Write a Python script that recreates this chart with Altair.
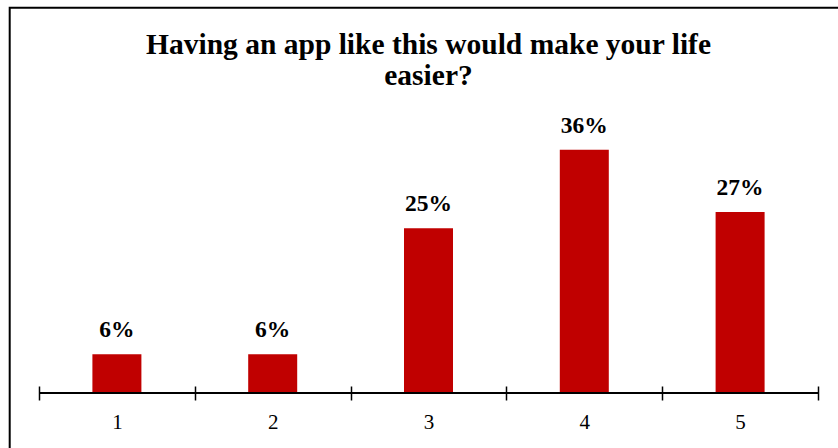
import altair as alt
import pandas as pd

categories = ["1", "2", "3", "4", "5"]
shares = [0.058, 0.058, 0.246, 0.363, 0.27]
title_lines = ["Having an app like this would make your life", "easier?"]

df = pd.DataFrame({"cat": categories, "share": shares})

W, H = 779, 268
SERIF = "Liberation Serif"

base = alt.Chart(df)

x_enc = alt.X(
    "cat:N",
    sort=categories,
    scale=alt.Scale(paddingInner=0, paddingOuter=0),
    axis=alt.Axis(
        title=None,
        domain=False,
        labelAngle=0,
        tickBand="extent",
        tickSize=14,
        tickWidth=1.5,
        tickColor="black",
        offset=-7,
        labelFont=SERIF,
        labelFontSize=21,
        labelColor="black",
        labelBaseline="alphabetic",
        labelPadding=28,
    ),
)
y_enc = alt.Y("share:Q", scale=alt.Scale(domain=[0, 0.4], nice=False), axis=None)

bars = base.mark_bar(color="#C00000", width=49).encode(x=x_enc, y=y_enc)

labels = base.mark_text(
    font=SERIF, fontSize=23.5, fontWeight="bold", color="black",
    baseline="alphabetic", dy=-17,
).encode(x=alt.X("cat:N", sort=categories), y=y_enc, text=alt.Text("share:Q", format=".0%"))

one = alt.Data(values=[{"v": 0}])

baseline_rule = alt.Chart(one).mark_rule(
    color="black", strokeWidth=2
).encode(y=alt.Y("v:Q", scale=alt.Scale(domain=[0, 0.4], nice=False), axis=None),
         x=alt.value(0), x2=alt.value(W))

border = alt.Chart(one).mark_rect(
    fill="white", fillOpacity=0, stroke="black", strokeWidth=2
).encode(x=alt.value(-29.3), y=alt.value(-117.3), x2=alt.value(900), y2=alt.value(500))

title = alt.Chart(one).mark_text(
    text=title_lines,
    font=SERIF, fontSize=29.5, fontWeight="bold", color="black",
    lineHeight=31, align="center", baseline="alphabetic",
).encode(x=alt.value(W / 2), y=alt.value(-71))

chart = alt.layer(border, bars, labels, baseline_rule, title).properties(
    width=W,
    height=H,
    background="white",
    autosize=alt.AutoSizeParams(type="none"),
    padding={"left": 39, "top": 125, "right": 20, "bottom": 55},
).configure_view(strokeWidth=0, stroke=None)

chart.save("out.html", embed_options={"renderer": "svg", "actions": False})
